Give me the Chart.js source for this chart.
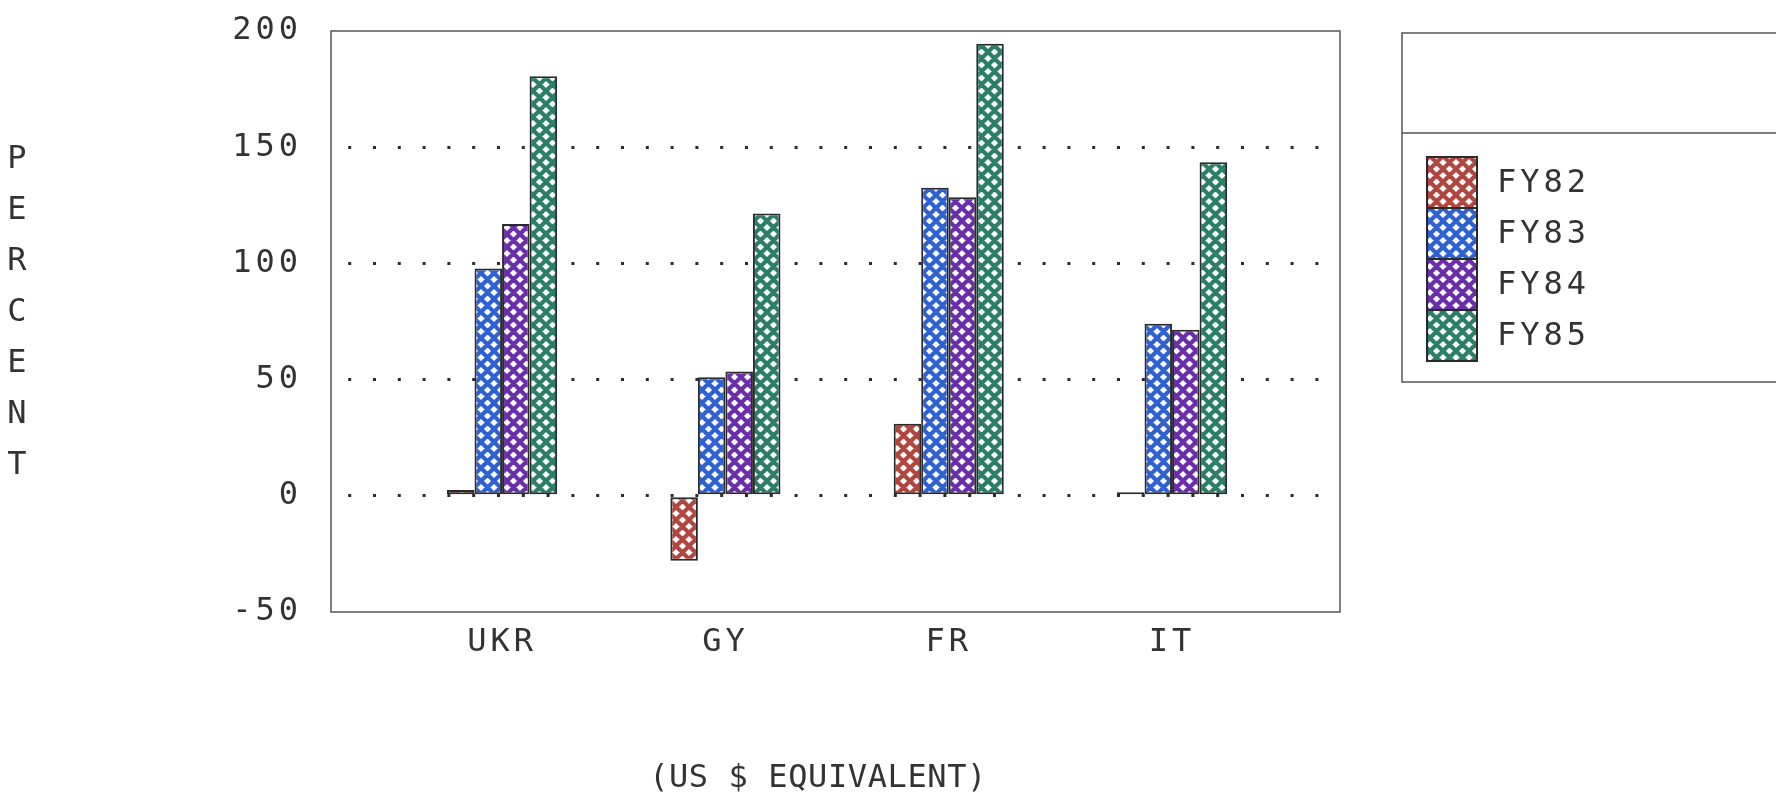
<!DOCTYPE html>
<html>
<head>
<meta charset="utf-8">
<script src="https://cdn.jsdelivr.net/npm/chart.js@4/dist/chart.umd.min.js"></script>
<style>
  html, body { margin: 0; padding: 0; background: #ffffff; overflow: hidden; }
  #wrap { width: 1776px; height: 798px; }
</style>
</head>
<body>
<div id="wrap"><canvas id="c" width="1776" height="798"></canvas></div>
<script>
// Year-over-year change by country, percent (US $ equivalent)
const categories = ['UKR', 'GY', 'FR', 'IT'];
const seriesNames = ['FY82', 'FY83', 'FY84', 'FY85'];
const fy82 = [2.5, -28, 31, 1.5];
const fy83 = [97.8, 51, 132.5, 74];
const fy84 = [117, 53.5, 128.5, 71.5];
const fy85 = [180.5, 121.5, 194.5, 143.5];
const yTicks = [-50, 0, 50, 100, 150, 200];
const yTitle = 'PERCENT';
const xTitle = '(US $ EQUIVALENT)';

const seriesValues = [fy82, fy83, fy84, fy85];
const seriesColors = ['#b1453f', '#2f61d3', '#6a2eab', '#2b7f66'];
const INK = '#333333';
const FONT = "'DejaVu Sans Mono', monospace";

// Cross-hatch fill: coloured lattice with white diamond holes
function hatch(color) {
  const t = 13;
  const c = document.createElement('canvas');
  c.width = t; c.height = t;
  const g = c.getContext('2d');
  g.fillStyle = '#ffffff';
  g.fillRect(0, 0, t, t);
  g.strokeStyle = color;
  g.lineWidth = 4.2;
  g.beginPath();
  for (const k of [-t, 0, t]) {
    g.moveTo(k, 0); g.lineTo(k + t, t);
    g.moveTo(k + t, 0); g.lineTo(k, t);
  }
  g.stroke();
  return g.createPattern(c, 'repeat');
}
const fills = seriesColors.map(hatch);

// Wide plotter-style lettering
const spacing = {
  id: 'spacing',
  beforeUpdate(chart) { chart.ctx.letterSpacing = '4px'; },
  beforeDraw(chart) { chart.ctx.letterSpacing = '4px'; }
};

// Thin frame around the plotting area
const frame = {
  id: 'frame',
  afterDatasetsDraw(chart) {
    const { ctx, chartArea: a } = chart;
    ctx.save();
    ctx.strokeStyle = '#555555';
    ctx.lineWidth = 1.5;
    ctx.strokeRect(a.left, a.top, a.right - a.left, a.bottom - a.top);
    ctx.restore();
  }
};

// Legend panel with an empty title band, swatches stacked edge to edge
const legendPanel = {
  id: 'legendPanel',
  afterDraw(chart) {
    const { ctx, chartArea: a } = chart;
    const x0 = a.right + 62, y0 = a.top + 2, yDiv = a.top + 102, y1 = a.top + 351;
    const x1 = chart.width + 2;
    ctx.save();
    ctx.strokeStyle = '#555555';
    ctx.lineWidth = 1.5;
    ctx.beginPath();
    ctx.moveTo(x1, y0); ctx.lineTo(x0, y0); ctx.lineTo(x0, y1); ctx.lineTo(x1, y1);
    ctx.moveTo(x0, yDiv); ctx.lineTo(x1, yDiv);
    ctx.stroke();
    const sw = 50, sh = 51, sx = x0 + 25, sy = a.top + 126;
    ctx.font = '32px ' + FONT;
    ctx.letterSpacing = '4px';
    ctx.textBaseline = 'middle';
    ctx.textAlign = 'left';
    chart.data.datasets.forEach((ds, i) => {
      const y = sy + i * sh;
      ctx.fillStyle = ds.backgroundColor;
      ctx.fillRect(sx, y, sw, sh);
      ctx.strokeStyle = '#2a2a2a';
      ctx.lineWidth = 2;
      ctx.strokeRect(sx, y, sw, sh);
      ctx.fillStyle = INK;
      ctx.fillText(ds.label, sx + sw + 20, y + sh / 2 + 1);
    });
    ctx.restore();
  }
};

// Axis captions: stacked vertical letters on the left, note under the axis
const captions = {
  id: 'captions',
  afterDraw(chart) {
    const { ctx } = chart;
    ctx.save();
    ctx.font = '32px ' + FONT;
    ctx.letterSpacing = '0px';
    ctx.fillStyle = INK;
    ctx.textAlign = 'center';
    ctx.textBaseline = 'middle';
    [...yTitle].forEach((ch, i) => ctx.fillText(ch, 17, 160 + i * 51));
    ctx.letterSpacing = '0.6px';
    ctx.fillText(xTitle, 818, 779);
    ctx.restore();
  }
};

Chart.defaults.font.family = FONT;
Chart.defaults.font.size = 32;
Chart.defaults.color = INK;

new Chart(document.getElementById('c'), {
  type: 'bar',
  data: {
    datasets: seriesNames.map((name, s) => ({
      label: name,
      data: seriesValues[s].map((v, i) => ({ x: i, y: v })),
      backgroundColor: fills[s],
      borderColor: '#2a2a2a',
      borderWidth: 2,
      borderSkipped: false,
      categoryPercentage: 0.493,
      barPercentage: 1.0
    }))
  },
  options: {
    responsive: false,
    animation: false,
    devicePixelRatio: 1,
    layout: { padding: { top: 31, right: 436, bottom: 0, left: 0 } },
    plugins: {
      legend: { display: false },
      tooltip: { enabled: false },
      title: { display: false }
    },
    scales: {
      x: {
        type: 'linear',
        offset: false,
        min: -0.766,
        max: 3.752,
        afterBuildTicks(scale) { scale.ticks = categories.map((_, i) => ({ value: i })); },
        afterFit(scale) { scale.height = 186; scale.paddingLeft = 0; scale.paddingRight = 0; },
        ticks: {
          autoSkip: false,
          maxRotation: 0,
          padding: 11,
          callback: (v) => categories[v] ?? ''
        },
        grid: { display: false, drawTicks: false, offset: false },
        border: { display: false }
      },
      y: {
        min: yTicks[0],
        max: yTicks[yTicks.length - 1],
        afterBuildTicks(scale) { scale.ticks = yTicks.map(v => ({ value: v })); },
        afterFit(scale) { scale.width = 331; scale.paddingTop = 0; scale.paddingBottom = 0; },
        ticks: { padding: 29 },
        grid: {
          drawTicks: false,
          lineWidth: 3,
          color: (c) => (c.tick && (c.tick.value === c.scale.min || c.tick.value === c.scale.max)) ? 'rgba(0,0,0,0)' : '#2b2b2b'
        },
        border: { display: false, dash: [3, 21.8], dashOffset: 7.6 }
      }
    }
  },
  plugins: [spacing, frame, legendPanel, captions]
});
</script>
</body>
</html>
